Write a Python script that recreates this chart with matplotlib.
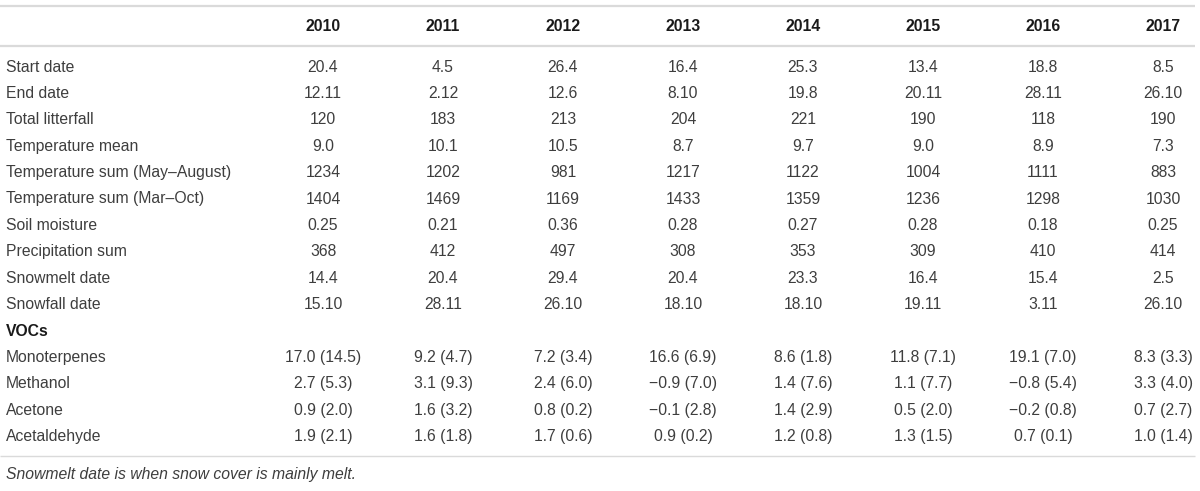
import matplotlib.pyplot as plt

# table data
years = ["2010", "2011", "2012", "2013", "2014", "2015", "2016", "2017"]

row_labels = [
    "Start date", "End date", "Total litterfall", "Temperature mean",
    "Temperature sum (May\u2013August)", "Temperature sum (Mar\u2013Oct)",
    "Soil moisture", "Precipitation sum", "Snowmelt date", "Snowfall date",
    "VOCs", "Monoterpenes", "Methanol", "Acetone", "Acetaldehyde",
]

start_date = ["20.4", "4.5", "26.4", "16.4", "25.3", "13.4", "18.8", "8.5"]
end_date = ["12.11", "2.12", "12.6", "8.10", "19.8", "20.11", "28.11", "26.10"]
total_litterfall = ["120", "183", "213", "204", "221", "190", "118", "190"]
temp_mean = ["9.0", "10.1", "10.5", "8.7", "9.7", "9.0", "8.9", "7.3"]
temp_sum_may_aug = ["1234", "1202", "981", "1217", "1122", "1004", "1111", "883"]
temp_sum_mar_oct = ["1404", "1469", "1169", "1433", "1359", "1236", "1298", "1030"]
soil_moisture = ["0.25", "0.21", "0.36", "0.28", "0.27", "0.28", "0.18", "0.25"]
precip_sum = ["368", "412", "497", "308", "353", "309", "410", "414"]
snowmelt_date = ["14.4", "20.4", "29.4", "20.4", "23.3", "16.4", "15.4", "2.5"]
snowfall_date = ["15.10", "28.11", "26.10", "18.10", "18.10", "19.11", "3.11", "26.10"]
vocs = [""] * 8
monoterpenes = ["17.0 (14.5)", "9.2 (4.7)", "7.2 (3.4)", "16.6 (6.9)",
                "8.6 (1.8)", "11.8 (7.1)", "19.1 (7.0)", "8.3 (3.3)"]
methanol = ["2.7 (5.3)", "3.1 (9.3)", "2.4 (6.0)", "\u22120.9 (7.0)",
            "1.4 (7.6)", "1.1 (7.7)", "\u22120.8 (5.4)", "3.3 (4.0)"]
acetone = ["0.9 (2.0)", "1.6 (3.2)", "0.8 (0.2)", "\u22120.1 (2.8)",
           "1.4 (2.9)", "0.5 (2.0)", "\u22120.2 (0.8)", "0.7 (2.7)"]
acetaldehyde = ["1.9 (2.1)", "1.6 (1.8)", "1.7 (0.6)", "0.9 (0.2)",
                "1.2 (0.8)", "1.3 (1.5)", "0.7 (0.1)", "1.0 (1.4)"]

rows = [start_date, end_date, total_litterfall, temp_mean, temp_sum_may_aug,
        temp_sum_mar_oct, soil_moisture, precip_sum, snowmelt_date,
        snowfall_date, vocs, monoterpenes, methanol, acetone, acetaldehyde]

bold_rows = ["VOCs"]
footnote = "Snowmelt date is when snow cover is mainly melt."

plt.rcParams['font.family'] = ['Liberation Sans', 'DejaVu Sans']

fig = plt.figure(figsize=(12, 4.91), dpi=100)
ax = fig.add_axes([0, 0, 1, 1])
ax.set_xlim(0, 1200)
ax.set_ylim(491, 0)
ax.axis("off")

text_col = "#3e3e3e"
line_col = "#dadada"
fs = 11.3

col_x0, col_dx = 323, 120
header_y = 26
row_y0, row_dy = 67, 26.4

# rules
ax.plot([0, 1195], [6, 6], color=line_col, lw=1.6, solid_capstyle="butt")
ax.plot([0, 1195], [46, 46], color=line_col, lw=1.6, solid_capstyle="butt")
ax.plot([0, 1195], [456, 456], color=line_col, lw=1.0, solid_capstyle="butt")

for j, yr in enumerate(years):
    ax.text(col_x0 + j * col_dx, header_y, yr, ha="center", va="center",
            fontsize=fs, fontweight="bold", color="#1a1a1a")

for i, (label, vals) in enumerate(zip(row_labels, rows)):
    y = row_y0 + i * row_dy
    if label in bold_rows:
        ax.text(6, y, label, ha="left", va="center", fontsize=fs,
                fontweight="bold", color="#1a1a1a")
    else:
        ax.text(6, y, label, ha="left", va="center", fontsize=fs, color=text_col)
    for j, v in enumerate(vals):
        ax.text(col_x0 + j * col_dx, y, v, ha="center", va="center",
                fontsize=fs, color=text_col)

ax.text(6, 474, footnote, ha="left", va="center", fontsize=fs,
        style="italic", color=text_col)

fig.savefig("out.png", dpi=100)
